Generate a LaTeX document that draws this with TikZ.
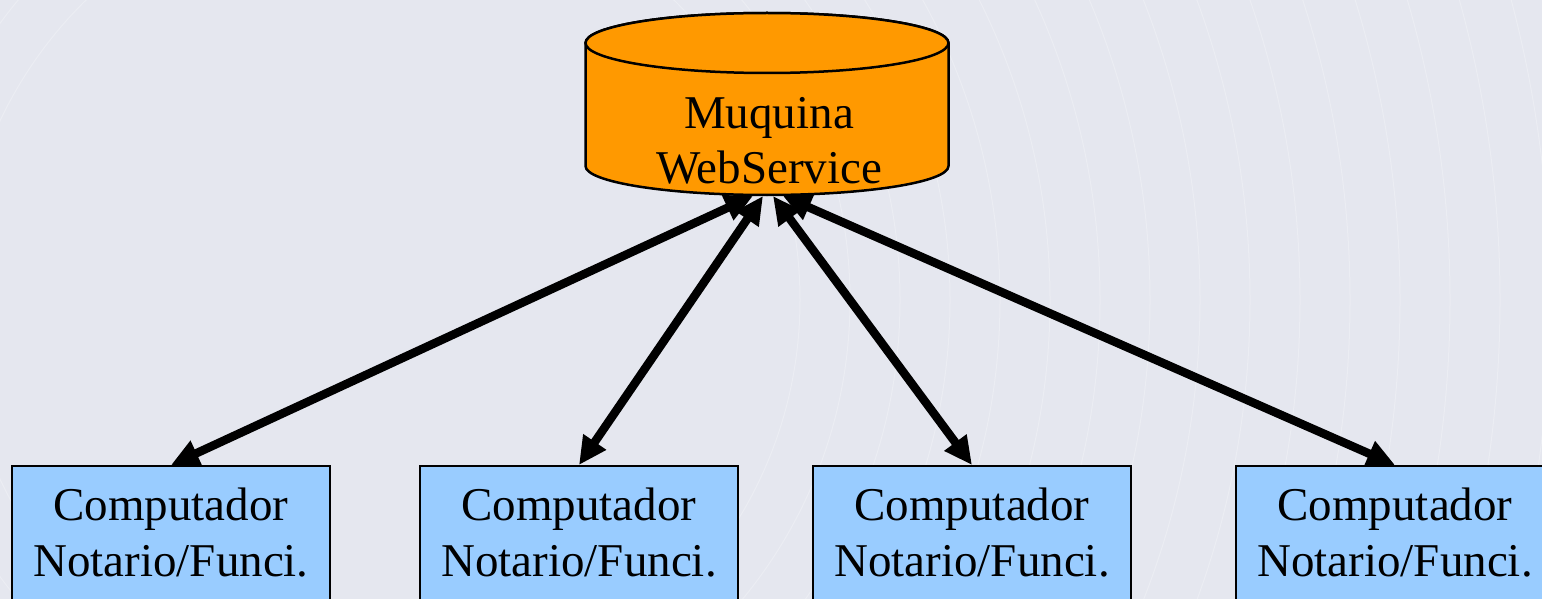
\documentclass[tikz,border=0pt]{standalone}
\usepackage{fontspec}
\setmainfont{Liberation Serif}
\usetikzlibrary{arrows.meta}
\definecolor{bg}{RGB}{229,231,239}
\definecolor{cylorange}{RGB}{255,153,0}
\definecolor{boxblue}{RGB}{153,204,255}
\tikzset{
  pcbox/.style={draw=black, line width=2pt, fill=boxblue, minimum width=318pt, minimum height=134pt, anchor=north, align=center, inner sep=0pt, font=\fontsize{47}{56}\selectfont},
  link/.style={line width=8.5pt, {Triangle[length=28pt,width=26pt]}-{Triangle[length=28pt,width=26pt]}},
  cyl/.style={draw=black, line width=2.5pt, fill=cylorange}
}
\begin{document}
\begin{tikzpicture}[x=1pt,y=1pt]
\fill[bg] (0,0) rectangle (1542,-599);
\useasboundingbox (0,0) rectangle (1542,-599);
% background texture
\begin{scope}
\clip (0,0) rectangle (1542,-599);
\foreach \r in {420,470,...,1400}{
  \draw[white, opacity=0.25, line width=1pt] (380,-300) circle[radius=\r];
}
\end{scope}
% cylinder
\filldraw[cyl] (585.5,-43) -- (585.5,-166) arc[start angle=180,end angle=360,x radius=181.5,y radius=29] -- (948.5,-43) arc[start angle=0,end angle=180,x radius=181.5,y radius=30] -- cycle;
\draw[cyl] (767,-43) ellipse[x radius=181.5,y radius=30];
\node[align=center, font=\fontsize{47}{55}\selectfont, inner sep=0pt, anchor=base] (ws) at (769,-183) {Muquina\\WebService};
\coordinate (c1) at (753,-196);
\coordinate (c2) at (763,-196);
\coordinate (c3) at (773,-196);
\coordinate (c4) at (783,-196);
% boxes
\node[pcbox] (p1) at (171,-465) {Computador\\Notario/Funci.};
\node[pcbox] (p2) at (579,-465) {Computador\\Notario/Funci.};
\node[pcbox] (p3) at (972,-465) {Computador\\Notario/Funci.};
\node[pcbox] (p4) at (1395,-465) {Computador\\Notario/Funci.};
% links
\draw[link] (c1) -- (p1.north);
\draw[link] (c2) -- (p2.north);
\draw[link] (c3) -- (p3.north);
\draw[link] (c4) -- (p4.north);
\end{tikzpicture}
\end{document}
